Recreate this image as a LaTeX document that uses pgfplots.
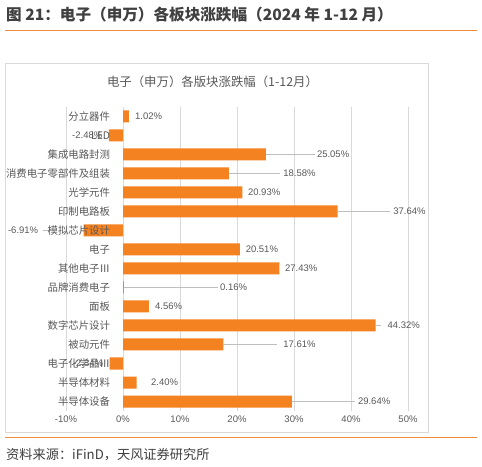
\documentclass[border=0pt]{standalone}
\usepackage{fontspec}
\setmainfont{Liberation Sans}
\newfontfamily\cjk{Noto Sans CJK SC}
\usepackage{pgfplots}
\pgfplotsset{compat=1.18}
\definecolor{barc}{RGB}{245,130,32}
\definecolor{txt}{RGB}{89,89,89}
\definecolor{grd}{RGB}{217,217,217}
\definecolor{hdr}{RGB}{64,64,64}
\definecolor{ora}{RGB}{240,140,60}
\definecolor{lead}{RGB}{191,191,191}
\begin{document}
\begin{tikzpicture}[x=1bp,y=1bp,
  lbl/.style={anchor=west, inner sep=0pt, text=txt, font=\fontsize{9.5bp}{11bp}\selectfont},
  ld/.style={draw=lead, line width=0.75bp}]
\useasboundingbox (0,0) rectangle (482,467);
\fill[white] (0,0) rectangle (482,467);
\coordinate (A) at (66,56);
\node[anchor=west, inner sep=0, text=hdr, font=\cjk\bfseries\fontsize{15.6bp}{17bp}\selectfont] at (6,452) {图 21：电子（申万）各板块涨跌幅（2024 年 1-12 月）};
\draw[ora, line width=1bp] (5,436) -- (477,436);
\draw[grd, line width=0.75bp] (5,404) rectangle (428,34.3);
\node[text=txt, font=\cjk\fontsize{12.4bp}{14bp}\selectfont] at (212.5,385) {电子（申万）各版块涨跌幅（1-12月）};
\draw[ora, line width=1.2bp] (5,29.3) -- (477,29.3);
\node[anchor=west, inner sep=0, text=hdr, font=\cjk\fontsize{13.2bp}{15bp}\selectfont] at (6,12) {资料来源：iFinD，天风证券研究所};
\begin{axis}[
  at={(A)}, anchor=south west, scale only axis,
  width=342bp, height=304bp,
  axis on top,
  xmin=-10, xmax=50, ymin=-0.5, ymax=15.5, y dir=reverse,
  xbar, bar width=12bp,
  axis line style={draw=none}, tick style={draw=none},
  xtick={-10,0,10,20,30,40,50},
  xticklabel={\pgfmathprintnumber{\tick}\%},
  /pgf/number format/assume math mode=true,
  ticklabel style={font=\fontsize{9.5bp}{11bp}\selectfont, text=txt},
  xticklabel style={yshift=-1bp},
  ytick={0,...,15},
  yticklabels={分立器件,LED,集成电路封测,消费电子零部件及组装,光学元件,印制电路板,模拟芯片设计,电子,其他电子Ⅲ,品牌消费电子,面板,数字芯片设计,被动元件,电子化学品Ⅲ,半导体材料,半导体设备},
  yticklabel style={font=\cjk\fontsize{10.4bp}{12bp}\selectfont, inner sep=0pt, xshift=48.5bp},
  clip=false,
]
% grid lines (behind bars)
\foreach \g in {-10,0,10,20,30,40,50}{
  \edef\tmp{\noexpand\draw[grd, line width=0.75bp] (axis cs:\g,-0.5) -- (axis cs:\g,15.5);}\tmp
}
\addplot[xbar, fill=barc, draw=none, bar width=12bp] coordinates {
 (1.02,0) (-2.48,1) (25.05,2) (18.58,3) (20.93,4) (37.64,5) (-6.91,6) (20.51,7)
 (27.43,8) (0.16,9) (4.56,10) (44.32,11) (17.61,12) (-2.34,13) (2.40,14) (29.64,15)};
% leader lines
\draw[ld] (axis cs:25.05,2) -- (axis cs:33.7,2);
\draw[ld] (axis cs:18.58,3) -- (axis cs:27.5,3);
\draw[ld] (axis cs:37.64,5) -- (axis cs:46.8,5);
\draw[ld] (axis cs:-14.1,6) -- (axis cs:-12.8,6);
\draw[ld] (axis cs:0.16,9) -- (axis cs:16.7,9);
\draw[ld] (axis cs:44.32,11) -- (axis cs:45.2,11);
\draw[ld] (axis cs:17.61,12) -- (axis cs:27.0,12);
\draw[ld] (axis cs:29.64,15) -- (axis cs:40.7,15);
% labels
\node[lbl] at (axis cs:2.1,0) {1.02\%};
\node[lbl] at (axis cs:-8.95,1) {-2.48\%};
\node[lbl] at (axis cs:34.0,2) {25.05\%};
\node[lbl] at (axis cs:28.1,3) {18.58\%};
\node[lbl] at (axis cs:21.9,4) {20.93\%};
\node[lbl] at (axis cs:47.4,5) {37.64\%};
\node[lbl] at (axis cs:-20.2,6) {-6.91\%};
\node[lbl] at (axis cs:21.5,7) {20.51\%};
\node[lbl] at (axis cs:28.4,8) {27.43\%};
\node[lbl] at (axis cs:17.0,9) {0.16\%};
\node[lbl] at (axis cs:5.6,10) {4.56\%};
\node[lbl] at (axis cs:46.4,11) {44.32\%};
\node[lbl] at (axis cs:28.1,12) {17.61\%};
\node[lbl] at (axis cs:-8.8,13) {-2.34\%};
\node[lbl] at (axis cs:4.9,14) {2.40\%};
\node[lbl] at (axis cs:41.2,15) {29.64\%};
\end{axis}
\end{tikzpicture}
\end{document}
